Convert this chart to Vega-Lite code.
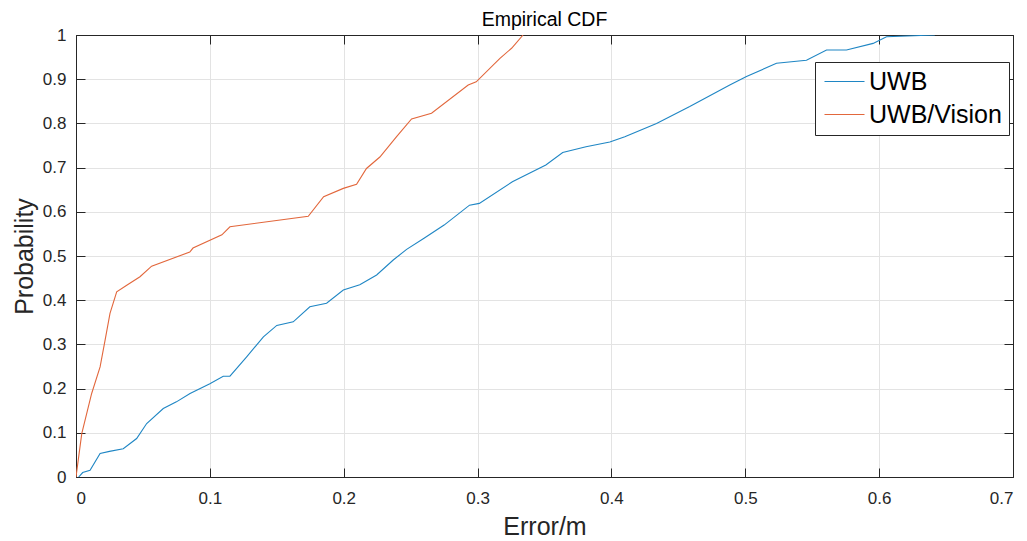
{
  "$schema": "https://vega.github.io/schema/vega-lite/v6.json",
  "width": 937,
  "height": 442,
  "autosize": {"type": "none"},
  "padding": {"left": 76, "top": 35, "right": 14, "bottom": 64},
  "background": "white",
  "title": {
    "text": "Empirical CDF",
    "font": "Liberation Sans",
    "fontSize": 19.5,
    "fontWeight": "normal",
    "color": "#000000",
    "offset": 7,
    "dy": 11
  },
  "config": {
    "view": {"stroke": "#262626", "strokeWidth": 1},
    "axis": {
      "labelFont": "Liberation Sans",
      "titleFont": "Liberation Sans",
      "labelColor": "#262626",
      "titleColor": "#262626",
      "labelFontSize": 17,
      "titleFontSize": 25,
      "titleFontWeight": "normal",
      "domainColor": "#262626",
      "tickColor": "#262626",
      "gridColor": "#e3e3e3",
      "gridWidth": 1
    }
  },
  "data": {
    "values": [
      {"series": "UWB", "x": 0.002, "y": 0},
      {"series": "UWB", "x": 0.005, "y": 0.01},
      {"series": "UWB", "x": 0.0105, "y": 0.015},
      {"series": "UWB", "x": 0.018, "y": 0.053},
      {"series": "UWB", "x": 0.025, "y": 0.058},
      {"series": "UWB", "x": 0.0353, "y": 0.064},
      {"series": "UWB", "x": 0.0453, "y": 0.087},
      {"series": "UWB", "x": 0.0528, "y": 0.121},
      {"series": "UWB", "x": 0.0652, "y": 0.155},
      {"series": "UWB", "x": 0.075, "y": 0.17},
      {"series": "UWB", "x": 0.0852, "y": 0.189},
      {"series": "UWB", "x": 0.1, "y": 0.211},
      {"series": "UWB", "x": 0.11, "y": 0.228},
      {"series": "UWB", "x": 0.115, "y": 0.228},
      {"series": "UWB", "x": 0.1275, "y": 0.272},
      {"series": "UWB", "x": 0.14, "y": 0.317},
      {"series": "UWB", "x": 0.15, "y": 0.343},
      {"series": "UWB", "x": 0.1623, "y": 0.351},
      {"series": "UWB", "x": 0.1747, "y": 0.385},
      {"series": "UWB", "x": 0.1872, "y": 0.393},
      {"series": "UWB", "x": 0.1997, "y": 0.423},
      {"series": "UWB", "x": 0.212, "y": 0.435},
      {"series": "UWB", "x": 0.2246, "y": 0.457},
      {"series": "UWB", "x": 0.237, "y": 0.491},
      {"series": "UWB", "x": 0.247, "y": 0.515},
      {"series": "UWB", "x": 0.26, "y": 0.54},
      {"series": "UWB", "x": 0.275, "y": 0.57},
      {"series": "UWB", "x": 0.294, "y": 0.615},
      {"series": "UWB", "x": 0.3013, "y": 0.619},
      {"series": "UWB", "x": 0.326, "y": 0.668},
      {"series": "UWB", "x": 0.351, "y": 0.706},
      {"series": "UWB", "x": 0.3636, "y": 0.734},
      {"series": "UWB", "x": 0.381, "y": 0.747},
      {"series": "UWB", "x": 0.3988, "y": 0.758},
      {"series": "UWB", "x": 0.41, "y": 0.77},
      {"series": "UWB", "x": 0.4337, "y": 0.8},
      {"series": "UWB", "x": 0.4585, "y": 0.838},
      {"series": "UWB", "x": 0.4884, "y": 0.887},
      {"series": "UWB", "x": 0.5009, "y": 0.906},
      {"series": "UWB", "x": 0.5233, "y": 0.936},
      {"series": "UWB", "x": 0.5457, "y": 0.943},
      {"series": "UWB", "x": 0.5607, "y": 0.966},
      {"series": "UWB", "x": 0.5756, "y": 0.966},
      {"series": "UWB", "x": 0.5955, "y": 0.981},
      {"series": "UWB", "x": 0.6055, "y": 0.996},
      {"series": "UWB", "x": 0.6416, "y": 1.0},
      {"series": "UWB/Vision", "x": 0, "y": 0},
      {"series": "UWB/Vision", "x": 0.0043, "y": 0.098},
      {"series": "UWB/Vision", "x": 0.0117, "y": 0.189},
      {"series": "UWB/Vision", "x": 0.018, "y": 0.249},
      {"series": "UWB/Vision", "x": 0.0217, "y": 0.309},
      {"series": "UWB/Vision", "x": 0.0254, "y": 0.37},
      {"series": "UWB/Vision", "x": 0.0304, "y": 0.419},
      {"series": "UWB/Vision", "x": 0.0379, "y": 0.434},
      {"series": "UWB/Vision", "x": 0.0478, "y": 0.453},
      {"series": "UWB/Vision", "x": 0.0565, "y": 0.477},
      {"series": "UWB/Vision", "x": 0.085, "y": 0.509},
      {"series": "UWB/Vision", "x": 0.0874, "y": 0.518},
      {"series": "UWB/Vision", "x": 0.109, "y": 0.548},
      {"series": "UWB/Vision", "x": 0.115, "y": 0.566},
      {"series": "UWB/Vision", "x": 0.1735, "y": 0.59},
      {"series": "UWB/Vision", "x": 0.185, "y": 0.634},
      {"series": "UWB/Vision", "x": 0.1997, "y": 0.653},
      {"series": "UWB/Vision", "x": 0.2096, "y": 0.662},
      {"series": "UWB/Vision", "x": 0.217, "y": 0.698},
      {"series": "UWB/Vision", "x": 0.227, "y": 0.724},
      {"series": "UWB/Vision", "x": 0.2395, "y": 0.77},
      {"series": "UWB/Vision", "x": 0.2507, "y": 0.81},
      {"series": "UWB/Vision", "x": 0.2656, "y": 0.823},
      {"series": "UWB/Vision", "x": 0.293, "y": 0.887},
      {"series": "UWB/Vision", "x": 0.299, "y": 0.894},
      {"series": "UWB/Vision", "x": 0.3167, "y": 0.947},
      {"series": "UWB/Vision", "x": 0.3254, "y": 0.97},
      {"series": "UWB/Vision", "x": 0.334, "y": 1.0}
    ]
  },
  "layer": [
    {
      "mark": {"type": "line", "strokeWidth": 1.1, "clip": true},
      "encoding": {
        "x": {
          "field": "x",
          "type": "quantitative",
          "scale": {"domain": [0, 0.7], "nice": false},
          "axis": {
            "title": "Error/m",
            "values": [0, 0.1, 0.2, 0.3, 0.4, 0.5, 0.6, 0.7],
            "format": "~f",
            "tickSize": -9,
            "labelPadding": 22,
            "titlePadding": 8,
            "grid": true,
            "domain": true
          }
        },
        "y": {
          "field": "y",
          "type": "quantitative",
          "scale": {"domain": [0, 1], "nice": false},
          "axis": {
            "title": "Probability",
            "values": [0, 0.1, 0.2, 0.3, 0.4, 0.5, 0.6, 0.7, 0.8, 0.9, 1],
            "format": "~f",
            "tickSize": -9,
            "labelPadding": 19,
            "titlePadding": 5,
            "grid": true,
            "domain": true
          }
        },
        "color": {
          "field": "series",
          "type": "nominal",
          "scale": {"domain": ["UWB", "UWB/Vision"], "range": ["#1f86c4", "#e2673c"]},
          "legend": {
            "title": null,
            "orient": "none",
            "legendX": 739,
            "legendY": 27,
            "symbolType": "M-1,0H3",
            "symbolSize": 400,
            "symbolStrokeWidth": 1.2,
            "labelFont": "Liberation Sans",
            "labelFontSize": 25,
            "labelColor": "#000000",
            "labelOffset": 22,
            "rowPadding": 7,
            "padding": 7,
            "strokeColor": "#262626",
            "fillColor": "white",
            "cornerRadius": 0
          }
        }
      }
    },
    {
      "mark": {"type": "line", "strokeOpacity": 0},
      "encoding": {
        "x": {
          "field": "x",
          "type": "quantitative",
          "axis": {"orient": "top", "title": null, "labels": false, "grid": false, "values": [0, 0.1, 0.2, 0.3, 0.4, 0.5, 0.6, 0.7], "tickSize": -9}
        },
        "y": {
          "field": "y",
          "type": "quantitative",
          "axis": {"orient": "right", "title": null, "labels": false, "grid": false, "values": [0, 0.1, 0.2, 0.3, 0.4, 0.5, 0.6, 0.7, 0.8, 0.9, 1], "tickSize": -9}
        },
        "detail": {"field": "series", "type": "nominal"}
      }
    }
  ],
  "resolve": {"axis": {"x": "independent", "y": "independent"}}
}
